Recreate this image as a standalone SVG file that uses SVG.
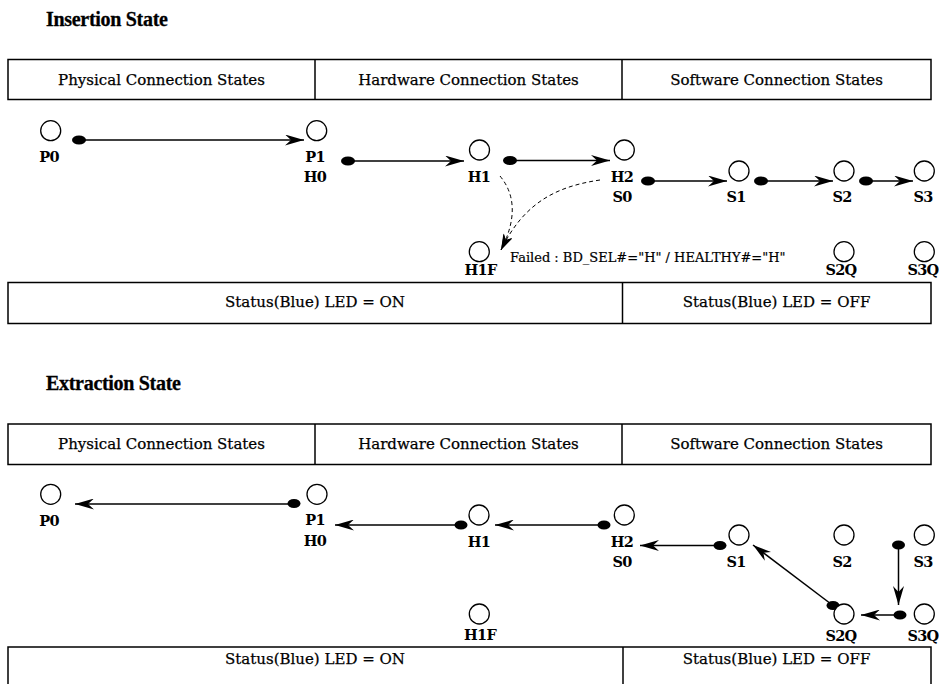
<svg xmlns="http://www.w3.org/2000/svg" width="939" height="684" viewBox="0 0 939 684">
<style>
.title{font-family:"Liberation Serif","Times New Roman",serif;font-weight:bold;font-size:20px;fill:#000;letter-spacing:-0.3px;stroke:#000;stroke-width:0.3}
.hdr{font-family:"DejaVu Serif",serif;font-size:15px;fill:#000;text-anchor:middle;stroke:#000;stroke-width:0.25}
.lbl{font-family:"DejaVu Serif",serif;font-weight:bold;font-size:14.5px;fill:#000;text-anchor:middle;letter-spacing:-0.7px}
.note{font-family:"DejaVu Serif",serif;font-size:13px;fill:#000;stroke:#000;stroke-width:0.2}
.box{fill:none;stroke:#000;stroke-width:1.5}
.st{fill:#fff;stroke:#000;stroke-width:1.3}
.conn{fill:none;stroke:#000;stroke-width:1.5;marker-end:url(#arr)}
.dash{fill:none;stroke:#000;stroke-width:1;stroke-dasharray:4 3;marker-end:url(#arrs)}
.dot{fill:#000}
</style>
<defs>
<marker id="arr" markerUnits="userSpaceOnUse" viewBox="0 0 19 11" refX="19" refY="5.5" markerWidth="19" markerHeight="11" orient="auto">
<path d="M0,0 L19,5.5 L0,11 L6,5.5 Z" fill="#000"/>
</marker>
<marker id="arrs" markerUnits="userSpaceOnUse" viewBox="0 0 16 10" refX="16" refY="5" markerWidth="16" markerHeight="10" orient="auto">
<path d="M0,0 L16,5 L0,10 L5,5 Z" fill="#000"/>
</marker>
</defs>

<text class="title" x="46" y="26">Insertion State</text>
<text class="title" x="46" y="390">Extraction State</text>

<g id="tables">
<rect class="box" x="8" y="59.5" width="923" height="40"/>
<line class="box" x1="315" y1="59.5" x2="315" y2="99.5"/>
<line class="box" x1="622" y1="59.5" x2="622" y2="99.5"/>
<text class="hdr" x="161.5" y="84.5">Physical Connection States</text>
<text class="hdr" x="468.5" y="84.5">Hardware Connection States</text>
<text class="hdr" x="776.5" y="84.5">Software Connection States</text>

<rect class="box" x="8" y="282.5" width="923" height="41"/>
<line class="box" x1="622.5" y1="282.5" x2="622.5" y2="323.5"/>
<text class="hdr" x="315" y="307">Status(Blue) LED = ON</text>
<text class="hdr" x="776.5" y="307">Status(Blue) LED = OFF</text>

<rect class="box" x="8" y="424" width="923" height="40.5"/>
<line class="box" x1="315" y1="424" x2="315" y2="464.5"/>
<line class="box" x1="622" y1="424" x2="622" y2="464.5"/>
<text class="hdr" x="161.5" y="449">Physical Connection States</text>
<text class="hdr" x="468.5" y="449">Hardware Connection States</text>
<text class="hdr" x="776.5" y="449">Software Connection States</text>

<rect class="box" x="8" y="647" width="923" height="50"/>
<line class="box" x1="623" y1="647" x2="623" y2="697"/>
<text class="hdr" x="315" y="663.5">Status(Blue) LED = ON</text>
<text class="hdr" x="776.5" y="663.5">Status(Blue) LED = OFF</text>
</g>

<g id="connectors">
<!-- insertion -->
<line class="conn" x1="79" y1="140" x2="304" y2="140"/>
<ellipse class="dot" cx="79" cy="140" rx="7" ry="4.5"/>
<line class="conn" x1="348" y1="161" x2="464" y2="161"/>
<ellipse class="dot" cx="348" cy="161" rx="7" ry="4.5"/>
<line class="conn" x1="510" y1="160.5" x2="610" y2="160.5"/>
<ellipse class="dot" cx="510" cy="160.5" rx="7" ry="4.5"/>
<line class="conn" x1="648" y1="181" x2="727" y2="181"/>
<ellipse class="dot" cx="648" cy="181" rx="7" ry="4.5"/>
<line class="conn" x1="761" y1="181" x2="833" y2="181"/>
<ellipse class="dot" cx="761" cy="181" rx="7" ry="4.5"/>
<line class="conn" x1="866" y1="181" x2="913" y2="181"/>
<ellipse class="dot" cx="866" cy="181" rx="7" ry="4.5"/>
<path class="dash" d="M500,176 Q524,205 501,250"/>
<path class="dash" d="M600,180 C560,186 525,200 501,250"/>
<!-- extraction -->
<line class="conn" x1="294" y1="504" x2="75" y2="504"/>
<ellipse class="dot" cx="294" cy="503.5" rx="6.5" ry="4.5"/>
<line class="conn" x1="461" y1="525" x2="335" y2="525"/>
<ellipse class="dot" cx="461" cy="525" rx="6.5" ry="4.5"/>
<line class="conn" x1="604" y1="525" x2="495" y2="525"/>
<ellipse class="dot" cx="604" cy="525" rx="6.5" ry="4.5"/>
<line class="conn" x1="720" y1="545.5" x2="640" y2="545.5"/>
<ellipse class="dot" cx="720" cy="545.5" rx="6.5" ry="4.5"/>
<line class="conn" x1="833" y1="605.5" x2="753" y2="545"/>
<ellipse class="dot" cx="833" cy="605.5" rx="6.5" ry="4.5"/>
<line class="conn" x1="898.5" y1="545" x2="898.5" y2="605"/>
<ellipse class="dot" cx="898.5" cy="545" rx="6.5" ry="4.5"/>
<line class="conn" x1="900" y1="615" x2="861" y2="615"/>
<ellipse class="dot" cx="900" cy="615" rx="6.5" ry="4.5"/>
</g>

<text class="note" x="510" y="261.5">Failed : BD_SEL#="H" / HEALTHY#="H"</text>

<g id="ins-P0"><circle class="st" cx="50.7" cy="130.7" r="10"/><text class="lbl" x="49" y="162">P0</text></g>
<g id="ins-P1H0"><circle class="st" cx="316.7" cy="130.7" r="10"/><text class="lbl" x="315" y="162">P1</text><text class="lbl" x="315" y="182">H0</text></g>
<g id="ins-H1"><circle class="st" cx="479.5" cy="150" r="10"/><text class="lbl" x="479" y="181.7">H1</text></g>
<g id="ins-H2S0"><circle class="st" cx="624.3" cy="150" r="10"/><text class="lbl" x="622" y="181.7">H2</text><text class="lbl" x="622" y="201.7">S0</text></g>
<g id="ins-S1"><circle class="st" cx="739" cy="171" r="10"/><text class="lbl" x="736" y="201.7">S1</text></g>
<g id="ins-S2"><circle class="st" cx="844" cy="171" r="10"/><text class="lbl" x="842" y="201.7">S2</text></g>
<g id="ins-S3"><circle class="st" cx="924.3" cy="171" r="10"/><text class="lbl" x="923" y="201.7">S3</text></g>
<g id="ins-H1F"><circle class="st" cx="479.3" cy="251.7" r="10"/><text class="lbl" x="480.5" y="275">H1F</text></g>
<g id="ins-S2Q"><circle class="st" cx="844" cy="251.7" r="10"/><text class="lbl" x="841" y="275">S2Q</text></g>
<g id="ins-S3Q"><circle class="st" cx="924.3" cy="251.7" r="10"/><text class="lbl" x="923" y="275">S3Q</text></g>

<g id="ext-P0"><circle class="st" cx="50.7" cy="494.3" r="10"/><text class="lbl" x="49" y="526">P0</text></g>
<g id="ext-P1H0"><circle class="st" cx="317" cy="494.3" r="10"/><text class="lbl" x="315" y="525">P1</text><text class="lbl" x="315" y="546">H0</text></g>
<g id="ext-H1"><circle class="st" cx="479" cy="515" r="10"/><text class="lbl" x="479" y="547">H1</text></g>
<g id="ext-H2S0"><circle class="st" cx="624.3" cy="515" r="10"/><text class="lbl" x="622" y="546.7">H2</text><text class="lbl" x="622" y="566.7">S0</text></g>
<g id="ext-S1"><circle class="st" cx="739" cy="535" r="10"/><text class="lbl" x="736" y="566.7">S1</text></g>
<g id="ext-S2"><circle class="st" cx="844" cy="535" r="10"/><text class="lbl" x="842" y="566.7">S2</text></g>
<g id="ext-S3"><circle class="st" cx="924.3" cy="535" r="10"/><text class="lbl" x="923" y="566.7">S3</text></g>
<g id="ext-H1F"><circle class="st" cx="479.3" cy="614" r="10"/><text class="lbl" x="480" y="640">H1F</text></g>
<g id="ext-S2Q"><circle class="st" cx="844" cy="614" r="10"/><text class="lbl" x="841" y="641">S2Q</text></g>
<g id="ext-S3Q"><circle class="st" cx="924.3" cy="614" r="10"/><text class="lbl" x="923" y="641">S3Q</text></g>
</svg>
